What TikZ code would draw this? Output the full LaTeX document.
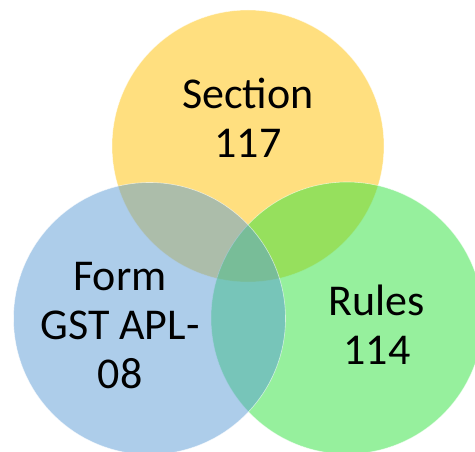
\documentclass[tikz,border=0pt]{standalone}
\usepackage{fontspec}
\setmainfont{Carlito}
\usepackage{tikz}
\usetikzlibrary{positioning}
\definecolor{sectionyellow}{RGB}{255, 192, 0}
\definecolor{rulesgreen}{RGB}{45, 225, 60}
\definecolor{formblue}{RGB}{91, 155, 213}

\begin{document}
\begin{tikzpicture}[
		x=1pt, y=1pt,
		venn/.style={circle, draw=white, line width=0.6pt, fill opacity=0.5, draw opacity=0.6, minimum size=272pt, inner sep=0pt},
		setlabel/.style={align=center, font=\fontsize{44}{49}\selectfont, text=black}
	]
	\useasboundingbox (0,0) rectangle (475,451);

	\node (section) [venn, fill=sectionyellow] at (248,305) {};
	\node (rules) [venn, fill=rulesgreen] at (347,133) {};
	\node (form) [venn, fill=formblue] at (149.5,132.5) {};

	\node (sectiontext) [setlabel] at (248,333) {Section\\117};
	\node (formtext) [setlabel] at (120,125.5) {Form\\GST APL-\\08};
	\node (rulestext) [setlabel] at (377,126) {Rules\\114};

\end{tikzpicture}
\end{document}
